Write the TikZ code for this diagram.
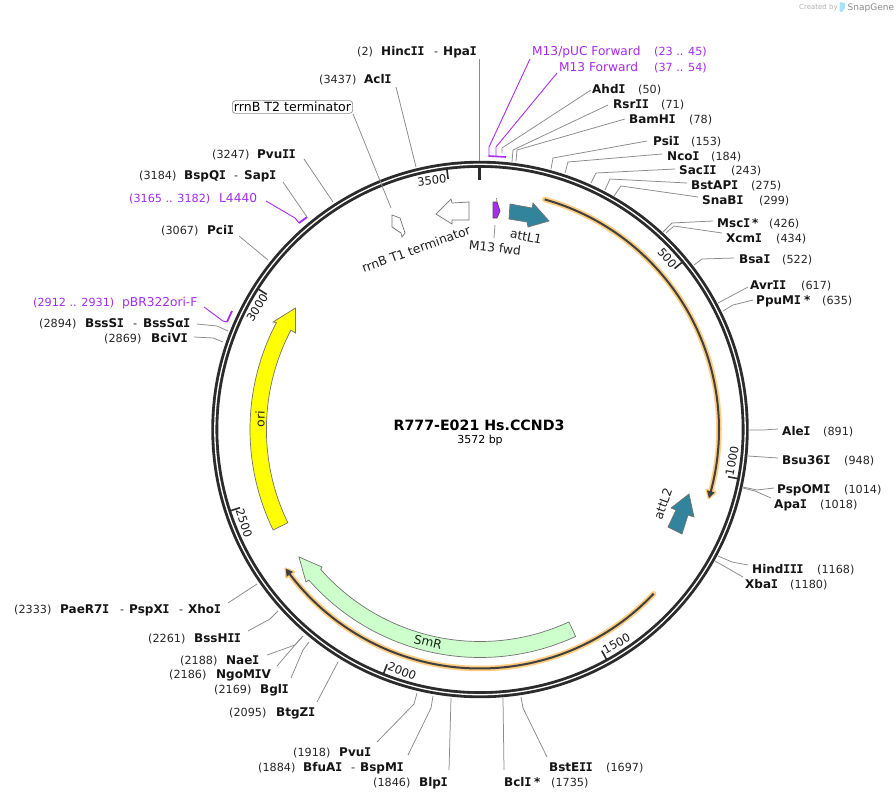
\documentclass[tikz,border=0pt]{standalone}
\usepackage{fontspec}
\setmainfont{DejaVu Sans}
\newfontfamily\serifI{DejaVu Sans Mono}
\newcommand{\BI}{\makebox[0.55em][c]{\serifI\bfseries I}}
\definecolor{primcol}{HTML}{A52BF0}
\definecolor{primline}{HTML}{A92CF2}
\definecolor{teal}{HTML}{31849B}
\definecolor{leadcol}{HTML}{8A8A8A}
\definecolor{halo}{HTML}{FFCC80}
\definecolor{ringcol}{HTML}{2B2B2B}
\definecolor{oriy}{HTML}{FFFF00}
\definecolor{smrg}{HTML}{CCFFCC}
\newcommand{\lab}[5][nm]{\node[#1] (#2) at (#3,#4) {#5};}
\newcommand{\leadA}[3]{\coordinate (#1-a) at (#2); \coordinate (#1-b) at (#3); \draw[leader] (#1-a) -- (#1-b);}
\newcommand{\leadB}[4]{\coordinate (#1-a) at (#2); \coordinate (#1-m) at (#3); \coordinate (#1-b) at (#4); \draw[leader] (#1-a) -- (#1-m) -- (#1-b);}
\begin{document}
\begin{tikzpicture}[x=1pt,y=-1pt,
  declare function={px(\r,\t)=480+\r*sin(\t); py(\r,\t)=429.5-\r*cos(\t);},
  nm/.style={anchor=base west,inner sep=0pt,font=\fontsize{12}{15}\selectfont\bfseries,text=black!92},
  num/.style={anchor=base west,inner sep=0pt,font=\fontsize{11.2}{14}\selectfont,text=black!85},
  dashlab/.style={anchor=base west,inner sep=0pt,font=\fontsize{11.2}{14}\selectfont,text=black!85},
  prim/.style={anchor=base west,inner sep=0pt,font=\fontsize{12.2}{14}\selectfont,text=primcol},
  primnum/.style={anchor=base west,inner sep=0pt,font=\fontsize{11.2}{14}\selectfont,text=primcol},
  feat/.style={inner sep=0pt,font=\fontsize{12.3}{14}\selectfont,text=black!88},
  tickt/.style={inner sep=1.5pt,font=\fontsize{11.5}{14}\selectfont,text=black!90},
  leader/.style={draw=leadcol,line width=0.75pt},
  primlead/.style={draw=primline,line width=0.9pt},
  arrowfeat/.style={draw=black!55,line width=0.7pt,line join=miter},
  halostroke/.style={draw=halo,line width=5.5pt,line join=round},
  corestroke/.style={draw=black!75,line width=2pt},
  ringtick/.style={draw=ringcol,line width=1.6pt}]
\useasboundingbox (0,0) rectangle (896,800);
\fill[white] (0,0) rectangle (896,800);

% backbone
\coordinate (cen) at (480,429.5);
\draw[ringcol,line width=7pt] (cen) circle[radius=265.2pt];
\draw[white,line width=1.3pt] (cen) circle[radius=265.2pt];

% numbering
\draw[ringcol,line width=3pt] (479.5,165) -- (479.5,180);
\foreach \b/\anc/\off in {500/east/0,3000/east/0,3500/east/0,1000/west/180,1500/west/180,2000/west/180,2500/west/180}{
  \pgfmathsetmacro\t{\b/3572*360}
  \pgfmathsetmacro\rot{\off-\t}
  \coordinate (tk\b a) at ({px(262,\t)},{py(262,\t)});
  \coordinate (tk\b b) at ({px(252.5,\t)},{py(252.5,\t)});
  \draw[ringtick] (tk\b a) -- (tk\b b);
  \node[tickt,anchor=\anc,rotate=\rot] (tk\b) at ({px(253.5,\t)},{py(253.5,\t)}) {\b};
}

% title
\node[inner sep=0pt,font=\fontsize{14.2}{16}\selectfont\bfseries] (title) at (479,425) {R777-E021 Hs.CCND3};
\node[inner sep=0pt,font=\fontsize{11}{13}\selectfont] (size) at (480,440) {3572 bp};

% orange features
\draw[halostroke,line cap=round] plot[domain=15.7:105.5,samples=70] ({px(239,\x)},{py(239,\x)});
\draw[halostroke,line cap=round] plot[domain=133.4:233,samples=70] ({px(239,\x)},{py(239,\x)});
\draw[draw=halo,fill=halo,line width=2.5pt,line join=round] ({px(239,106.7)},{py(239,106.7)}) -- ({px(243.5,104.9)},{py(243.5,104.9)}) -- ({px(234.5,104.9)},{py(234.5,104.9)}) -- cycle;
\draw[draw=halo,fill=halo,line width=2.5pt,line join=round] ({px(239,234.4)},{py(239,234.4)}) -- ({px(243.5,232.6)},{py(243.5,232.6)}) -- ({px(234.5,232.6)},{py(234.5,232.6)}) -- cycle;
\draw[corestroke] plot[domain=15.7:105.5,samples=70] ({px(239,\x)},{py(239,\x)});
\draw[corestroke] plot[domain=133.4:233,samples=70] ({px(239,\x)},{py(239,\x)});
\fill[black!75] ({px(239,106.7)},{py(239,106.7)}) -- ({px(243,105)},{py(243,105)}) -- ({px(235,105)},{py(235,105)}) -- cycle;
\fill[black!75] ({px(239,234.4)},{py(239,234.4)}) -- ({px(243,232.7)},{py(243,232.7)}) -- ({px(235,232.7)},{py(235,232.7)}) -- cycle;

% ori
\draw[arrowfeat,fill=oriy] plot[domain=244.1:297.7,samples=50] ({px(230,\x)},{py(230,\x)}) -- (273,322) -- (295.5,308) -- (295.5,333) -- plot[domain=297.7:244.1,samples=50] ({px(213.6,\x)},{py(213.6,\x)}) -- cycle;
\node[feat,rotate=88] (ori) at (260,419) {ori};

% SmR
\draw[arrowfeat,fill=smrg] plot[domain=155.2:228.7,samples=60] ({px(228,\x)},{py(228,\x)}) -- (306,582) -- (299,557) -- (322,567) -- plot[domain=228.7:155.2,samples=60] ({px(212,\x)},{py(212,\x)}) -- cycle;
\node[feat,rotate=-13.5] (SmR) at (428,642) {SmR};

% attL1 / attL2
\draw[arrowfeat,fill=teal] (510,204) -- (532,208) -- (533,203) -- (549,221) -- (528,227) -- (527,222) -- (509,219) -- cycle;
\node[feat,rotate=-11] (attL1) at (526,236.5) {attL1};
\draw[arrowfeat,fill=teal] (689,494) -- (694,517) -- (688,515) -- (682,534) -- (668,527) -- (676,510) -- (671,508) -- cycle;
\node[feat,rotate=70] (attL2) at (663,504) {attL2};

% M13 fwd
\draw[draw=black!70,fill=primline,line width=0.7pt] (493,202) -- (497,202) -- (500,211) -- (497,218) -- (493,218) -- cycle;
\coordinate (m13t) at (496.5,198); \coordinate (m13tb) at (497,202);
\draw[leader] (m13t) -- (m13tb);
\node[feat,rotate=-6] (m13fwd) at (495,248) {M13 fwd};
\coordinate (m13b) at (495,225);\coordinate (m13c) at (494,238);
\draw[leader] (m13b) -- (m13c);

% rrnB T1 / T2
\draw[arrowfeat,fill=white] (436,214) -- (451,199) -- (452,203) -- (469,202) -- (469,220) -- (452,220) -- (452,224) -- cycle;
\node[feat,rotate=20] (rrnT1) at (416,249) {rrnB T1 terminator};
\draw[arrowfeat,fill=white] (392,215) -- (400,218) -- (405,233) -- (402,237) -- (401,233) -- (392,227) -- cycle;
\node[draw=black!45,rounded corners=3pt,line width=0.7pt,inner xsep=1.5pt,inner ysep=1.5pt,font=\fontsize{12.6}{14}\selectfont,fill=white] (rrnT2) at (292.5,107) {rrnB T2 terminator};
\coordinate (t2b) at (391,208);
\draw[leader] (rrnT2.south east) -- (t2b);

% top labels
\lab[num]{n2}{357}{56}{(2)} \lab{HincII}{381}{56}{Hinc\BI\BI} \lab[dashlab]{d1}{434}{56}{-} \lab{HpaI}{443}{56}{Hpa\BI}
\leadA{lHinc}{479,59}{479,161}
\lab[num]{n3437}{319}{83}{(3437)} \lab{AclI}{364}{83}{Acl\BI}
\leadA{lAcl}{396,87}{416,167}

% primers at top
\lab[prim]{pM13p}{532}{56}{M13/pUC Forward} \lab[primnum]{nM13p}{654}{56}{(23 .. 45)}
\lab[prim]{pM13}{559}{71}{M13 Forward} \lab[primnum]{nM13}{654}{71}{(37 .. 54)}
\coordinate (pa1) at (530,59); \coordinate (pa2) at (489,147); \coordinate (pa3) at (489,156);
\draw[primlead] (pa1) -- (pa2) -- (pa3);
\coordinate (pb1) at (557,73); \coordinate (pb2) at (496,147); \coordinate (pb3) at (496,156);
\draw[primlead] (pb1) -- (pb2) -- (pb3);
\coordinate (pc1) at (488.5,156); \coordinate (pc2) at (506,157);
\draw[primline,line width=1.6pt] (pc1) -- (pc2);

% right-hand labels
\lab{AhdI}{592}{93}{Ahd\BI} \lab[num]{n50}{638}{93}{(50)}
\leadB{lAhd}{591,90}{502,148}{502,153}
\lab{RsrII}{613}{108}{Rsr\BI\BI} \lab[num]{n71}{661}{108}{(71)}
\leadB{lRsr}{608,105}{513,150}{512,162}
\lab{BamHI}{629}{123}{BamH\BI} \lab[num]{n78}{689}{123}{(78)}
\leadB{lBam}{625,119}{517,150}{516,161}
\lab{PsiI}{653}{145}{Psi\BI} \lab[num]{n153}{691}{145}{(153)}
\leadB{lPsi}{647,141}{553,158}{551,169}
\lab{NcoI}{667}{160}{Nco\BI} \lab[num]{n184}{711}{160}{(184)}
\leadB{lNco}{662,154}{568,162}{565,173}
\lab{SacII}{679}{174}{Sac\BI\BI} \lab[num]{n243}{731}{174}{(243)}
\leadB{lSac}{675,169}{596,173}{591,183}
\lab{BstAPI}{691}{189}{BstAP\BI} \lab[num]{n275}{751}{189}{(275)}
\leadB{lBst}{687,183}{610,179}{605,190}
\lab{SnaBI}{702}{204}{SnaB\BI} \lab[num]{n299}{759}{204}{(299)}
\leadB{lSna}{698,197}{621,186}{614,196}
\lab{MscI}{717}{227}{Msc\BI} \lab{s1}{752}{227}{*} \lab[num]{n426}{769}{227}{(426)}
\leadB{lMsc}{713,221}{672,223}{663,232}
\lab{XcmI}{726}{242}{Xcm\BI} \lab[num]{n434}{776}{242}{(434)}
\leadB{lXcm}{722,233}{674,226}{666,233}
\lab{BsaI}{739}{263}{Bsa\BI} \lab[num]{n522}{782}{263}{(522)}
\leadB{lBsa}{734,258}{702,259}{694,265}
\lab{AvrII}{750}{289}{Avr\BI\BI} \lab[num]{n617}{801}{289}{(617)}
\leadA{lAvr}{748,287}{718,303}
\lab{PpuMI}{756}{304}{PpuM\BI} \lab{s2}{804}{304}{*} \lab[num]{n635}{822}{304}{(635)}
\leadB{lPpu}{753,300}{733,305}{723,311}
\lab{AleI}{782}{435}{Ale\BI} \lab[num]{n891}{823}{435}{(891)}
\leadB{lAle}{778,429}{763,430}{749,430}
\lab{Bsu36I}{782}{464}{Bsu36\BI} \lab[num]{n948}{844}{464}{(948)}
\leadA{lBsu}{778,458}{748,456}
\lab{PspOMI}{777}{493}{PspOM\BI} \lab[num]{n1014}{844}{493}{(1014)}
\leadB{lPsp}{774,488}{757,490}{743,487}
\lab{ApaI}{774}{508}{Apa\BI} \lab[num]{n1018}{820}{508}{(1018)}
\leadB{lApa}{771,498}{755,491}{743,488}
\lab{HindIII}{752}{573}{Hind\BI\BI\BI} \lab[num]{n1168}{817}{573}{(1168)}
\leadB{lHin}{748,565}{732,562}{718,556}
\lab{XbaI}{745}{588}{Xba\BI} \lab[num]{n1180}{790}{588}{(1180)}
\leadA{lXba}{743,577}{715,561}

% bottom labels
\lab{BstEII}{549}{771}{BstE\BI\BI} \lab[num]{n1697}{606}{771}{(1697)}
\leadB{lBstE}{547,757}{523,708}{521,697}
\lab{BclI}{504}{786}{Bcl\BI} \lab{s3}{534}{786}{*} \lab[num]{n1735}{551}{786}{(1735)}
\leadA{lBcl}{504,770}{503,698}
\lab{BlpI}{419}{786}{Blp\BI} \lab[num]{n1846}{373}{786}{(1846)}
\leadA{lBlp}{449,770}{451,698}
\lab{BfuAI}{303}{771}{BfuA\BI} \lab[dashlab]{d2}{351}{771}{-} \lab{BspMI}{360}{771}{BspM\BI} \lab[num]{n1884}{258}{771}{(1884)}
\leadB{lBfu}{408,755}{431,708}{433,696}
\lab{PvuI}{339}{756}{Pvu\BI} \lab[num]{n1918}{293}{756}{(1918)}
\leadB{lPvu}{377,742}{414,704}{417,693}
\lab{BtgZI}{276}{716}{BtgZ\BI} \lab[num]{n2095}{229}{716}{(2095)}
\leadA{lBtg}{317,702}{338,662}
\lab{BglI}{260}{693}{Bgl\BI} \lab[num]{n2169}{214}{693}{(2169)}
\leadB{lBgl}{291,678}{303,650}{309,642}
\lab{NgoMIV}{216}{678}{NgoM\BI V} \lab[num]{n2186}{169}{678}{(2186)}
\leadB{lNgo}{277,666}{295,645}{303,636}
\lab{NaeI}{226}{664}{Nae\BI} \lab[num]{n2188}{180}{664}{(2188)}
\leadB{lNae}{267,655}{295,645}{303,636}
\lab{BssHII}{194}{642}{BssH\BI\BI} \lab[num]{n2261}{148}{642}{(2261)}
\leadB{lBss}{248,631}{270,619}{278,611}
\lab{PaeR7I}{60}{613}{PaeR7\BI} \lab[dashlab]{d3}{120}{613}{-} \lab{PspXI}{129}{613}{PspX\BI} \lab[dashlab]{d4}{179}{613}{-} \lab{XhoI}{188}{613}{Xho\BI} \lab[num]{n2333}{14}{613}{(2333)}
\leadA{lPae}{228,603}{257,584}

% left labels
\lab{BciVI}{151}{342}{BciV\BI} \lab[num]{n2869}{104}{342}{(2869)}
\leadB{lBci}{194,337}{213,338}{223,342}
\lab{BssSI}{85}{327}{BssS\BI} \lab[dashlab]{d5}{133}{327}{-} \lab{BssSaI}{143}{327}{BssSα\BI} \lab[num]{n2894}{39}{327}{(2894)}
\leadB{lBssS}{197,324}{217,326}{228,331}
\lab[prim]{pBR}{122}{306}{pBR322ori-F} \lab[primnum]{nBR}{33}{306}{(2912 .. 2931)}
\coordinate (br1) at (204,307); \coordinate (br2) at (223,321); \coordinate (br3) at (227,322); \coordinate (br4) at (232,311);
\draw[primlead] (br1) -- (br2) -- (br3);
\draw[primline,line width=1.8pt] (br3) -- (br4);
\lab{PciI}{207}{234}{Pci\BI} \lab[num]{n3067}{161}{234}{(3067)}
\leadA{lPci}{239,236}{268,260}
\lab[prim]{L4440}{219}{202}{L4440} \lab[primnum]{nL}{129}{202}{(3165 .. 3182)}
\coordinate (ll1) at (266,201); \coordinate (ll2) at (295,218); \coordinate (ll3) at (299,223); \coordinate (ll4) at (307,217);
\draw[primlead] (ll1) -- (ll2) -- (ll3);
\draw[primline,line width=1.8pt] (ll3) -- (ll4);
\lab{BspQI}{184}{179}{BspQ\BI} \lab[dashlab]{d6}{234}{179}{-} \lab{SapI}{244}{179}{Sap\BI} \lab[num]{n3184}{139}{179}{(3184)}
\leadA{lBsp}{283,182}{307,217}
\lab{PvuII}{257}{158}{Pvu\BI\BI} \lab[num]{n3247}{212}{158}{(3247)}
\leadA{lPvuII}{304,159}{333,202}

% credit
\node[anchor=base west,inner sep=0pt,font=\fontsize{7}{8}\selectfont,text=black!30] (credit) at (799,10) {Created by};
\fill[cyan!35,rounded corners=1pt] (839.5,2) -- (845,3) -- (845,8) -- (842,12) -- (839.5,12) -- cycle;
\node[anchor=base west,inner sep=0pt,font=\fontsize{9}{10}\selectfont,text=black!45] (sg) at (847.5,10.5) {SnapGene};
\end{tikzpicture}
\end{document}
